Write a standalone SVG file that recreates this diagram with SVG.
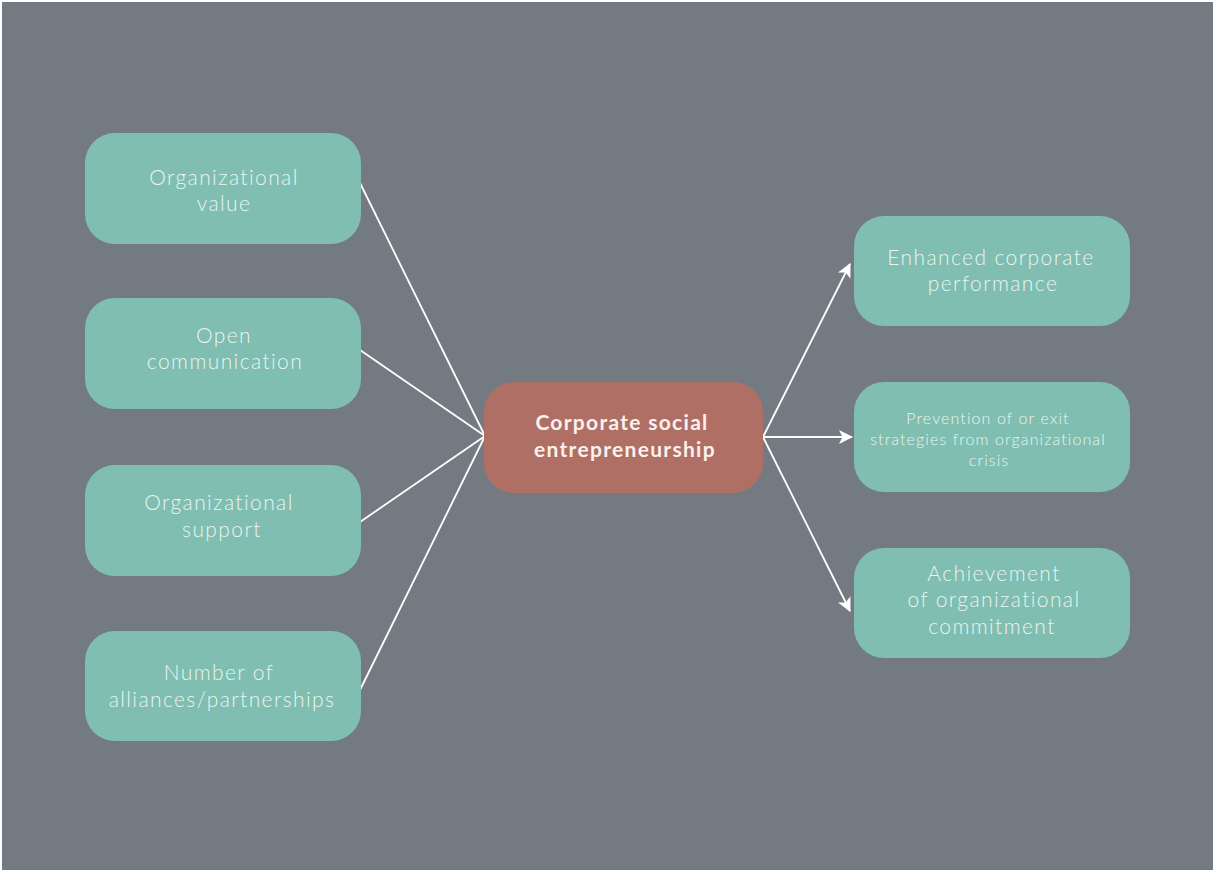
<svg xmlns="http://www.w3.org/2000/svg" width="1213" height="870" viewBox="0 0 1213 870">
  <style>
    .box { fill: #7fbeb0; }
    .core { fill: #b06f64; }
    .lbl { font-family: "Lato", "Open Sans", sans-serif; font-weight: 300; font-size: 21px; fill: #eaf5f1; text-anchor: middle; letter-spacing: 1.4px; }
    .small { font-size: 16px; letter-spacing: 1.1px; }
    .core-lbl { font-family: "Lato", "Open Sans", sans-serif; font-weight: 700; font-size: 21px; fill: #fbf1ee; text-anchor: middle; letter-spacing: 1.3px; }
    .link { stroke: #ffffff; stroke-width: 1.8; fill: none; }
  </style>
  <defs>
    <marker id="arrow" viewBox="0 0 14 14" refX="13" refY="7" markerWidth="14" markerHeight="14" markerUnits="userSpaceOnUse" orient="auto">
      <path d="M0,0 L14,7 L0,14 L3.5,7 Z" fill="#ffffff"/>
    </marker>
  </defs>

  <rect x="0" y="0" width="1213" height="870" fill="#ffffff"/>
  <rect x="2" y="2" width="1211" height="868" fill="#747a82"/>

  <!-- connectors -->
  <g id="connectors">
    <line class="link" x1="360" y1="183" x2="485" y2="436"/>
    <line class="link" x1="360" y1="350" x2="485" y2="436"/>
    <line class="link" x1="360" y1="522" x2="485" y2="436"/>
    <line class="link" x1="360" y1="690" x2="485" y2="436"/>
    <line class="link" x1="763" y1="437" x2="850" y2="264" marker-end="url(#arrow)"/>
    <line class="link" x1="763" y1="437" x2="852" y2="437" marker-end="url(#arrow)"/>
    <line class="link" x1="763" y1="437" x2="850" y2="611" marker-end="url(#arrow)"/>
  </g>

  <!-- left inputs -->
  <g id="node-organizational-value">
    <rect class="box" x="85" y="133" width="276" height="111" rx="30"/>
    <text class="lbl" x="224" y="185">Organizational</text>
    <text class="lbl" x="224" y="211">value</text>
  </g>
  <g id="node-open-communication">
    <rect class="box" x="85" y="298" width="276" height="111" rx="30"/>
    <text class="lbl" x="224" y="343">Open</text>
    <text class="lbl" x="225" y="369">communication</text>
  </g>
  <g id="node-organizational-support">
    <rect class="box" x="85" y="465" width="276" height="111" rx="30"/>
    <text class="lbl" x="219" y="510">Organizational</text>
    <text class="lbl" x="222" y="537">support</text>
  </g>
  <g id="node-alliances">
    <rect class="box" x="85" y="631" width="276" height="110" rx="30"/>
    <text class="lbl" x="219" y="680">Number of</text>
    <text class="lbl" x="222" y="707">alliances/partnerships</text>
  </g>

  <!-- centre -->
  <g id="node-cse">
    <rect class="core" x="484" y="382" width="279" height="111" rx="30"/>
    <text class="core-lbl" x="622" y="430">Corporate social</text>
    <text class="core-lbl" x="625" y="457">entrepreneurship</text>
  </g>

  <!-- right outcomes -->
  <g id="node-performance">
    <rect class="box" x="854" y="216" width="276" height="110" rx="30"/>
    <text class="lbl" x="991" y="265">Enhanced corporate</text>
    <text class="lbl" x="993" y="291">performance</text>
  </g>
  <g id="node-crisis">
    <rect class="box" x="854" y="382" width="276" height="110" rx="30"/>
    <text class="lbl small" x="988" y="424">Prevention of or exit</text>
    <text class="lbl small" x="988" y="445">strategies from organizational</text>
    <text class="lbl small" x="989" y="466">crisis</text>
  </g>
  <g id="node-commitment">
    <rect class="box" x="854" y="548" width="276" height="110" rx="30"/>
    <text class="lbl" x="994" y="581">Achievement</text>
    <text class="lbl" x="994" y="607">of organizational</text>
    <text class="lbl" x="992" y="634">commitment</text>
  </g>
</svg>
